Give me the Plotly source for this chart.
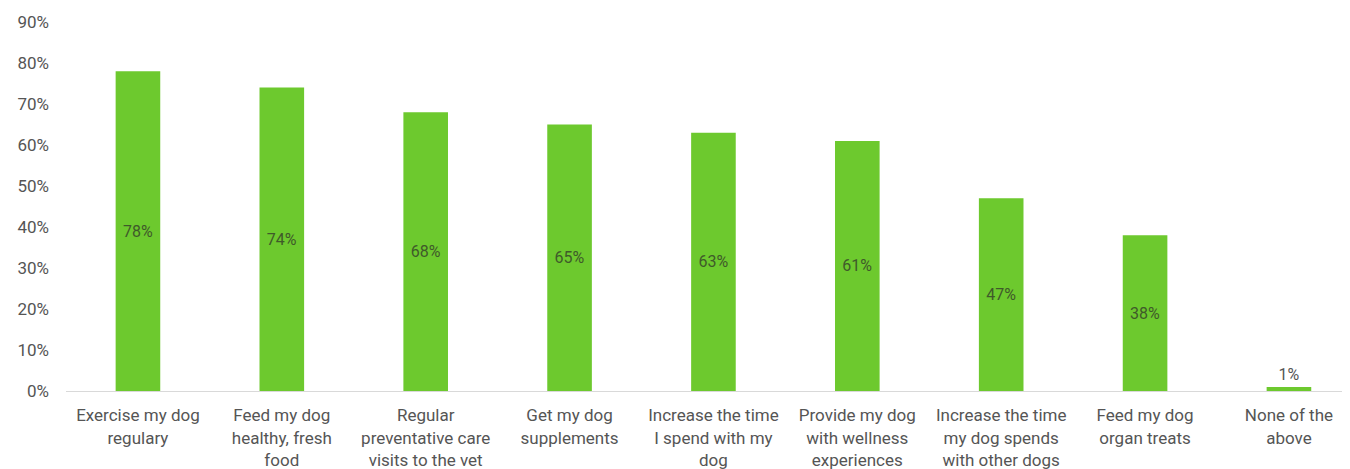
import plotly.graph_objects as go

categories = [
    "Exercise my dog<br>regulary",
    "Feed my dog<br>healthy, fresh<br>food",
    "Regular<br>preventative care<br>visits to the vet",
    "Get my dog<br>supplements",
    "Increase the time<br>I spend with my<br>dog",
    "Provide my dog<br>with wellness<br>experiences",
    "Increase the time<br>my dog spends<br>with other dogs",
    "Feed my dog<br>organ treats",
    "None of the<br>above",
]
values = [0.78, 0.74, 0.68, 0.65, 0.63, 0.61, 0.47, 0.38, 0.01]
labels = ["78%", "74%", "68%", "65%", "63%", "61%", "47%", "38%", "1%"]
tick_vals = [0, 0.1, 0.2, 0.3, 0.4, 0.5, 0.6, 0.7, 0.8, 0.9]
tick_text = ["0%", "10%", "20%", "30%", "40%", "50%", "60%", "70%", "80%", "90%"]

fig = go.Figure(
    go.Bar(
        x=list(range(len(categories))),
        y=values,
        text=labels,
        textposition="auto",
        insidetextanchor="middle",
        insidetextfont=dict(color="#3f5a2a", size=16, family="Roboto"),
        outsidetextfont=dict(color="#555555", size=16, family="Roboto"),
        textangle=0,
        marker=dict(color="#6DC92E", line=dict(width=0)),
        cliponaxis=False,
    )
)

fig.update_layout(
    width=1350,
    height=469,
    margin=dict(l=58, r=0, t=14, b=86),
    plot_bgcolor="white",
    paper_bgcolor="white",
    bargap=0.69,
    showlegend=False,
    font=dict(family="Roboto", color="#555555", size=17),
)
fig.update_xaxes(
    tickmode="array",
    tickvals=list(range(len(categories))),
    ticktext=categories,
    range=[-0.5, 8.48],
    showline=True,
    linecolor="#d9d9d9",
    linewidth=1,
    showgrid=False,
    ticks="",
    ticklabelstandoff=9,
    tickfont=dict(size=17, color="#555555"),
)
fig.update_yaxes(
    range=[0, 0.9],
    tickmode="array",
    tickvals=tick_vals,
    ticktext=tick_text,
    showgrid=False,
    zeroline=False,
    showline=False,
    ticks="",
    ticklabelstandoff=16,
    tickfont=dict(size=17, color="#555555"),
)

fig.write_html("out.html")
